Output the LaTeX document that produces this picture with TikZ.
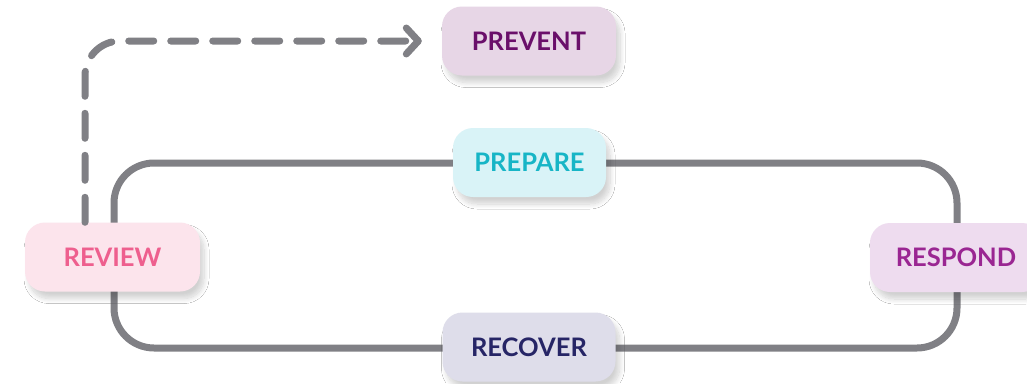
\documentclass[tikz,border=0pt]{standalone}
\usepackage{fontspec}
\setmainfont{Lato}[BoldFont={* Bold}]
\usetikzlibrary{arrows.meta,shadows.blur}
\definecolor{loopgray}{RGB}{128,128,133}
\definecolor{prevfill}{RGB}{231,214,230}
\definecolor{prevtext}{RGB}{106,15,106}
\definecolor{prepfill}{RGB}{217,243,247}
\definecolor{preptext}{RGB}{23,181,198}
\definecolor{revfill}{RGB}{252,228,236}
\definecolor{revtext}{RGB}{238,95,142}
\definecolor{resfill}{RGB}{238,220,239}
\definecolor{restext}{RGB}{154,38,146}
\definecolor{recfill}{RGB}{222,221,234}
\definecolor{rectext}{RGB}{38,37,102}
\tikzset{
  phase/.style={rounded corners=20pt, minimum height=69pt, inner sep=0pt,
    font=\fontsize{25.5}{30}\selectfont\bfseries,
    blur shadow={shadow xshift=4pt, shadow yshift=-7pt, shadow blur steps=10, shadow opacity=18, shadow blur radius=5pt}},
  cycleline/.style={draw=loopgray, line width=7pt, rounded corners=40pt},
  dashline/.style={draw=loopgray, line width=7pt, line cap=round, dash pattern=on 25pt off 17pt, rounded corners=35pt}
}
\begin{document}
\begin{tikzpicture}[x=1pt,y=-1pt]
\useasboundingbox (0,0) rectangle (1027,383);
\fill[white] (0,0) rectangle (1027,383);
\draw[cycleline] (114,163) rectangle (957,348);
\node[phase, fill=prevfill, text=prevtext, minimum width=174pt] (prevent) at (529,41) {PREVENT};
\node[phase, fill=prepfill, text=preptext, minimum width=153pt] (prepare) at (529.5,162.5) {PREPARE};
\node[phase, fill=revfill, text=revtext, minimum width=175pt] (review) at (112.5,257) {REVIEW};
\node[phase, fill=resfill, text=restext, minimum width=172pt] (respond) at (956,257.5) {RESPOND};
\node[phase, fill=recfill, text=rectext, minimum width=173pt] (recover) at (529,347) {RECOVER};
\coordinate (dashx) at (85,0);
\draw[dashline, shorten >=20pt, -{Straight Barb[length=12pt,width=26pt,round]}]
  (review.north -| dashx) |- (prevent.west);
\end{tikzpicture}
\end{document}
